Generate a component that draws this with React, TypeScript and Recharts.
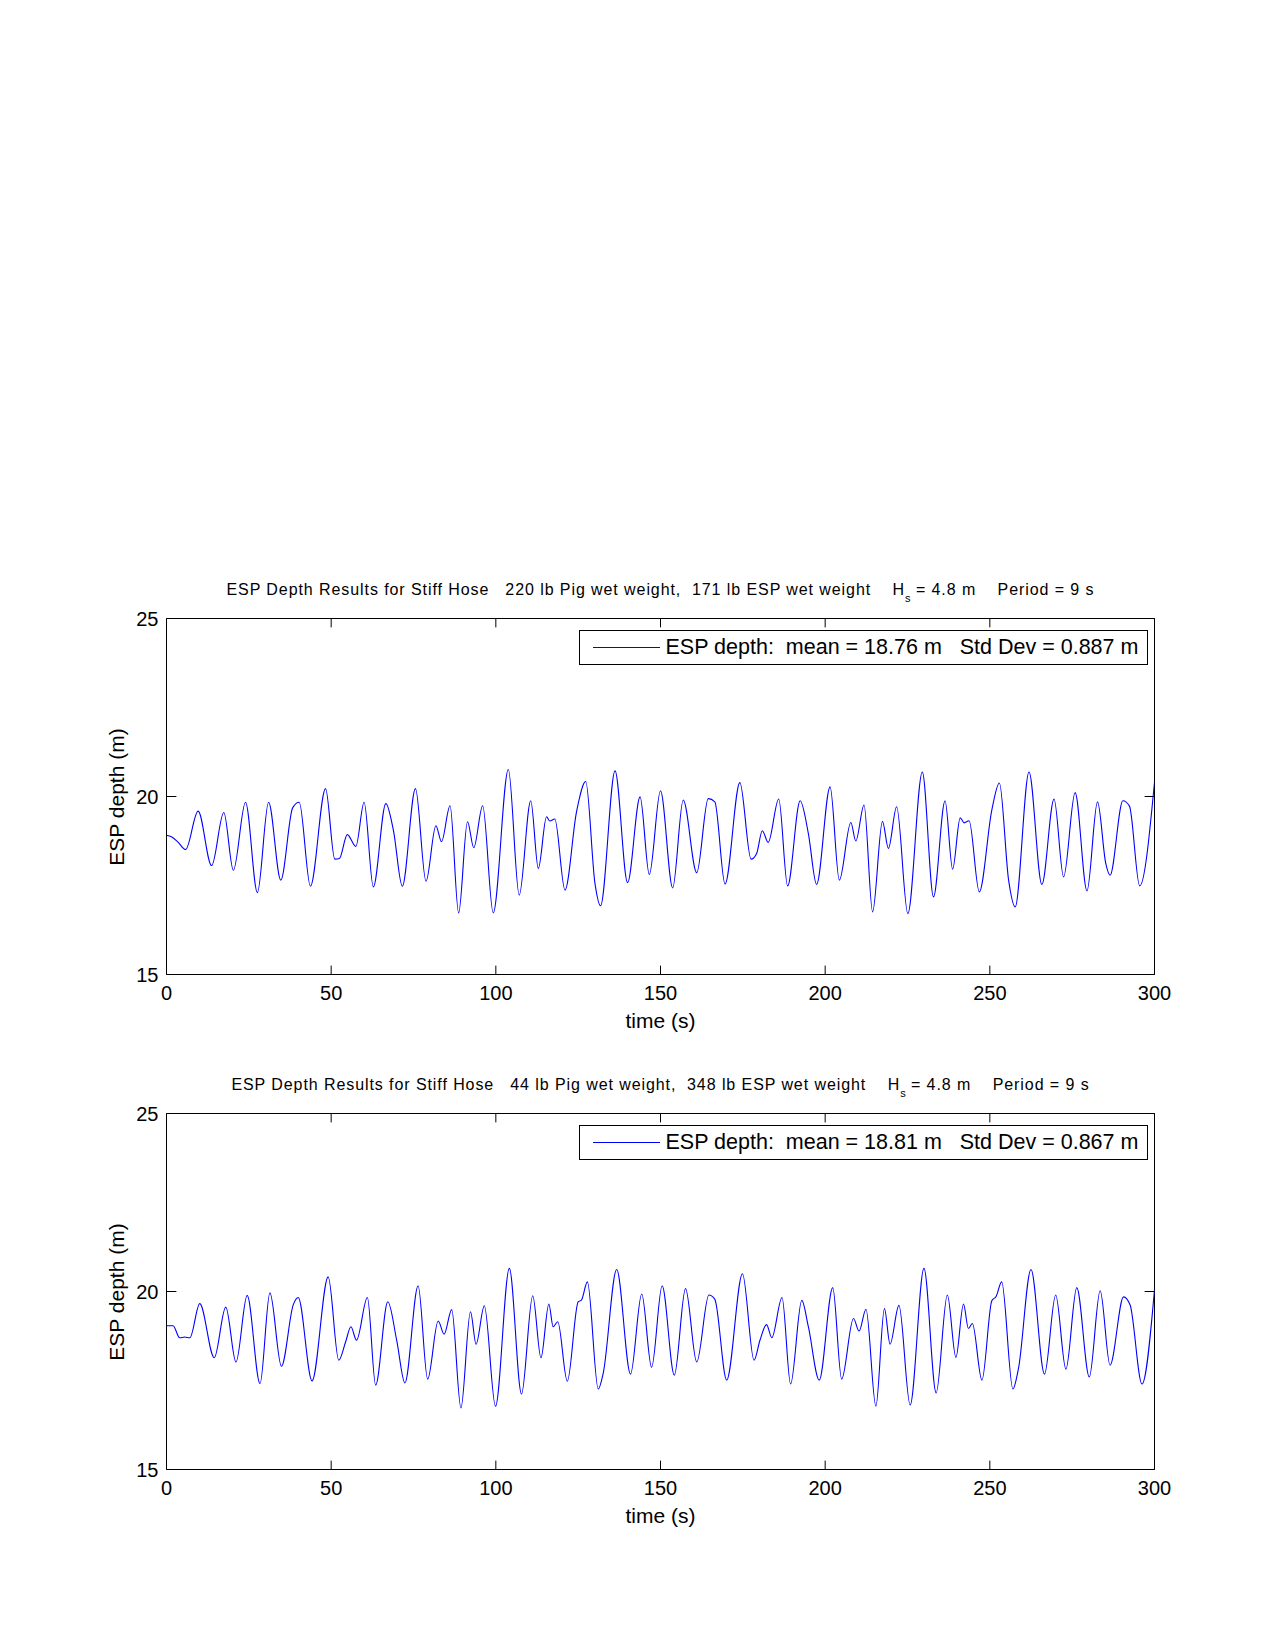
import React from 'react';
import { LineChart, Line, XAxis, YAxis, ReferenceArea, ReferenceLine } from 'recharts';

// ---- data ----
const topTime = [0, 1.5, 3.5, 5.8, 9.6, 13.7, 17.4, 20.3, 24.0, 27.6, 31.0, 34.7, 38.3, 40.3, 43.7, 48.3, 51.1, 52.5, 54.9, 57.5, 60.0, 62.8, 66.6, 68.9, 71.6, 75.6, 78.8, 81.8, 83.5, 86.1, 88.7, 91.4, 93.3, 96.0, 99.2, 103.8, 107.1, 110.6, 112.9, 115.4, 116.4, 117.9, 121.0, 124.5, 127.3, 130.1, 131.8, 136.2, 140.0, 143.8, 146.6, 150.0, 153.7, 156.9, 161.0, 164.5, 166.5, 169.6, 174.1, 177.5, 179.2, 180.9, 182.7, 185.9, 188.6, 192.4, 194.9, 197.4, 201.5, 204.3, 207.8, 209.3, 211.8, 214.4, 217.4, 219.2, 221.7, 225.1, 229.5, 232.9, 236.4, 238.7, 241.0, 242.2, 243.7, 246.8, 250.6, 252.9, 255.7, 257.7, 261.9, 265.8, 269.5, 272.4, 275.9, 279.5, 282.7, 285.2, 286.5, 290.4, 292.4, 295.5, 300];
const topDepth = [18.91, 18.87, 18.72, 18.51, 19.59, 18.06, 19.55, 17.93, 19.84, 17.30, 19.84, 17.65, 19.68, 19.84, 17.48, 20.22, 18.24, 18.26, 18.93, 18.60, 19.84, 17.46, 19.80, 19.05, 17.48, 20.22, 17.62, 19.18, 18.73, 19.74, 16.73, 19.29, 18.56, 19.74, 16.73, 20.76, 17.23, 19.88, 17.98, 19.43, 19.31, 19.37, 17.37, 19.57, 20.42, 17.56, 16.93, 20.72, 17.58, 19.99, 17.81, 20.16, 17.43, 19.90, 17.86, 19.94, 19.85, 17.54, 20.39, 18.24, 18.40, 19.04, 18.71, 19.93, 17.49, 19.88, 18.96, 17.53, 20.27, 17.65, 19.27, 18.75, 19.76, 16.76, 19.30, 18.54, 19.71, 16.71, 20.69, 17.18, 19.88, 17.96, 19.40, 19.26, 19.32, 17.32, 19.62, 20.38, 17.65, 16.90, 20.69, 17.53, 19.93, 17.74, 20.11, 17.35, 19.85, 18.12, 17.79, 19.88, 19.73, 17.49, 20.40];

const bottomTime = [0, 2.0, 4.0, 5.5, 7.1, 10.1, 14.5, 18.0, 21.1, 24.5, 28.4, 31.4, 34.9, 38.5, 40.0, 44.2, 49.1, 52.3, 54.4, 56.0, 57.7, 61.0, 63.5, 67.2, 69.9, 72.4, 76.4, 79.3, 82.5, 84.3, 86.6, 89.4, 92.3, 94.0, 96.5, 99.9, 104.1, 107.8, 111.2, 113.7, 116.1, 117.4, 118.8, 121.7, 125.0, 126.0, 127.8, 131.1, 132.6, 136.7, 140.9, 144.3, 147.3, 150.5, 154.2, 157.6, 161.0, 164.7, 166.5, 170.1, 174.9, 178.4, 180.2, 182.2, 183.8, 186.9, 189.5, 192.9, 194.9, 198.2, 202.3, 205.0, 208.6, 210.3, 212.4, 215.4, 218.0, 219.7, 222.4, 225.8, 230.0, 233.7, 237.1, 239.7, 242.0, 243.5, 244.7, 247.6, 250.6, 251.9, 253.6, 257.0, 258.7, 262.5, 266.6, 270.0, 273.1, 276.4, 280.2, 283.5, 286.5, 290.6, 292.6, 296.2, 300];
const bottomDepth = [19.04, 19.04, 18.70, 18.72, 18.70, 19.66, 18.14, 19.56, 18.02, 19.89, 17.41, 19.96, 17.90, 19.63, 19.83, 17.49, 20.41, 18.07, 18.59, 19.01, 18.63, 19.83, 17.37, 19.71, 18.63, 17.43, 20.16, 17.54, 19.17, 18.80, 19.49, 16.73, 19.43, 18.52, 19.60, 16.78, 20.65, 17.12, 19.88, 18.14, 19.65, 19.01, 19.15, 17.48, 19.71, 19.76, 20.27, 17.26, 17.70, 20.62, 17.68, 19.93, 17.87, 20.16, 17.65, 20.08, 18.02, 19.90, 19.78, 17.51, 20.50, 18.07, 18.63, 19.07, 18.70, 19.83, 17.40, 19.75, 19.01, 17.51, 20.11, 17.54, 19.24, 18.89, 19.50, 16.78, 19.52, 18.52, 19.61, 16.81, 20.65, 17.15, 19.90, 18.15, 19.65, 18.96, 19.10, 17.51, 19.74, 19.86, 20.27, 17.26, 17.84, 20.62, 17.68, 19.90, 17.82, 20.11, 17.60, 20.02, 17.93, 19.85, 19.62, 17.40, 20.05];

const xTicks = [0, 50, 100, 150, 200, 250, 300];
const yTicks = [15, 20, 25];

const topTitle = { prefix: 'ESP Depth Results for Stiff Hose   220 lb Pig wet weight,  171 lb ESP wet weight    H', suffix: ' = 4.8 m    Period = 9 s' };
const bottomTitle = { prefix: 'ESP Depth Results for Stiff Hose   44 lb Pig wet weight,  348 lb ESP wet weight    H', suffix: ' = 4.8 m    Period = 9 s' };
const topLegend = 'ESP depth:  mean = 18.76 m   Std Dev = 0.887 m';
const bottomLegend = 'ESP depth:  mean = 18.81 m   Std Dev = 0.867 m';

const FONT = '"Liberation Sans", Arial, Helvetica, sans-serif';
const CHART_W = 1275;
const CHART_H = 480;
const MARGIN = { top: 58.5, right: 120.5, left: 106.5, bottom: 15.5 };

function buildRows(t: number[], v: number[]) {
  return t.map((tt, i) => ({ t: tt, depth: v[i] }));
}

function Panel({ top, time, depth, title, legend }: { top: number; time: number[]; depth: number[]; title: { prefix: string; suffix: string }; legend: string }) {
  const data = buildRows(time, depth);
  const xTickLen = 3; // seconds (inward tick length on y sides)
  const yTickLen = 0.25; // metres (inward tick length on x sides)
  return (
    <>
      <div
        style={{
          position: 'absolute',
          left: 660.5,
          top: top + 30,
          transform: 'translate(-50%, -50%)',
          whiteSpace: 'pre',
          fontSize: 16,
          lineHeight: '16px',
          letterSpacing: '0.92px',
          color: '#000',
        }}
      >
        {title.prefix}
        <span style={{ fontSize: 11, position: 'relative', top: 7, letterSpacing: 0 }}>s</span>
        {title.suffix}
      </div>
      <div style={{ position: 'absolute', left: 0, top, width: CHART_W, height: CHART_H }}>
        <LineChart width={CHART_W} height={CHART_H} data={data} margin={MARGIN}>
          <XAxis
            dataKey="t"
            type="number"
            domain={[0, 300]}
            ticks={xTicks}
            interval={0}
            allowDataOverflow
            tickLine={false}
            axisLine={false}
            tickSize={0}
            tickMargin={11}
            height={50}
            tick={{ fill: '#000', fontSize: 20 }}
          />
          <YAxis
            type="number"
            domain={[15, 25]}
            ticks={yTicks}
            interval={0}
            allowDataOverflow
            tickLine={false}
            axisLine={false}
            tickSize={0}
            tickMargin={8}
            width={60}
            tick={{ fill: '#000', fontSize: 20 }}
          />
          <ReferenceArea x1={0} x2={300} y1={15} y2={25} fill="none" fillOpacity={0} stroke="#000" strokeWidth={1} ifOverflow="visible" />
          {xTicks.map((x) => (
            <ReferenceLine key={'xb' + x} segment={[{ x, y: 15 }, { x, y: 15 + yTickLen }]} stroke="#000" strokeWidth={1} ifOverflow="visible" />
          ))}
          {xTicks.map((x) => (
            <ReferenceLine key={'xt' + x} segment={[{ x, y: 25 - yTickLen }, { x, y: 25 }]} stroke="#000" strokeWidth={1} ifOverflow="visible" />
          ))}
          {yTicks.map((y) => (
            <ReferenceLine key={'yl' + y} segment={[{ x: 0, y }, { x: xTickLen, y }]} stroke="#000" strokeWidth={1} ifOverflow="visible" />
          ))}
          {yTicks.map((y) => (
            <ReferenceLine key={'yr' + y} segment={[{ x: 300 - xTickLen, y }, { x: 300, y }]} stroke="#000" strokeWidth={1} ifOverflow="visible" />
          ))}
          <Line
            type="monotone"
            dataKey="depth"
            stroke="#0000ff"
            strokeWidth={1.1}
            dot={false}
            activeDot={false}
            isAnimationActive={false}
          />
        </LineChart>
      </div>
      {/* legend box */}
      <div
        style={{
          position: 'absolute',
          left: 578.5,
          top: top + 70,
          width: 569,
          height: 35,
          boxSizing: 'border-box',
          border: '1px solid #000',
          background: '#fff',
        }}
      >
        <div style={{ position: 'absolute', left: 13, top: 16, width: 67, height: 0, borderTop: '1px solid #0000ff' }} />
        <div
          style={{
            position: 'absolute',
            left: 86,
            top: 0,
            height: 33,
            lineHeight: '33px',
            fontSize: 21.5,
            whiteSpace: 'pre',
            color: '#000',
          }}
        >
          {legend}
        </div>
      </div>
      {/* axis labels */}
      <div
        style={{
          position: 'absolute',
          left: 116,
          top: top + 236.5,
          transform: 'translate(-50%, -50%) rotate(-90deg)',
          whiteSpace: 'nowrap',
          fontSize: 21,
          lineHeight: '21px',
          color: '#000',
        }}
      >
        ESP depth (m)
      </div>
      <div
        style={{
          position: 'absolute',
          left: 660.5,
          top: top + 460,
          transform: 'translate(-50%, -50%)',
          whiteSpace: 'nowrap',
          fontSize: 21,
          lineHeight: '21px',
          color: '#000',
        }}
      >
        time (s)
      </div>
    </>
  );
}

export default function App() {
  return (
    <div
      style={{
        position: 'absolute',
        left: 0,
        top: 0,
        width: 1275,
        height: 1650,
        background: '#fff',
        fontFamily: FONT,
        overflow: 'hidden',
      }}
    >
      <Panel top={560} time={topTime} depth={topDepth} title={topTitle} legend={topLegend} />
      <Panel top={1055} time={bottomTime} depth={bottomDepth} title={bottomTitle} legend={bottomLegend} />
    </div>
  );
}
